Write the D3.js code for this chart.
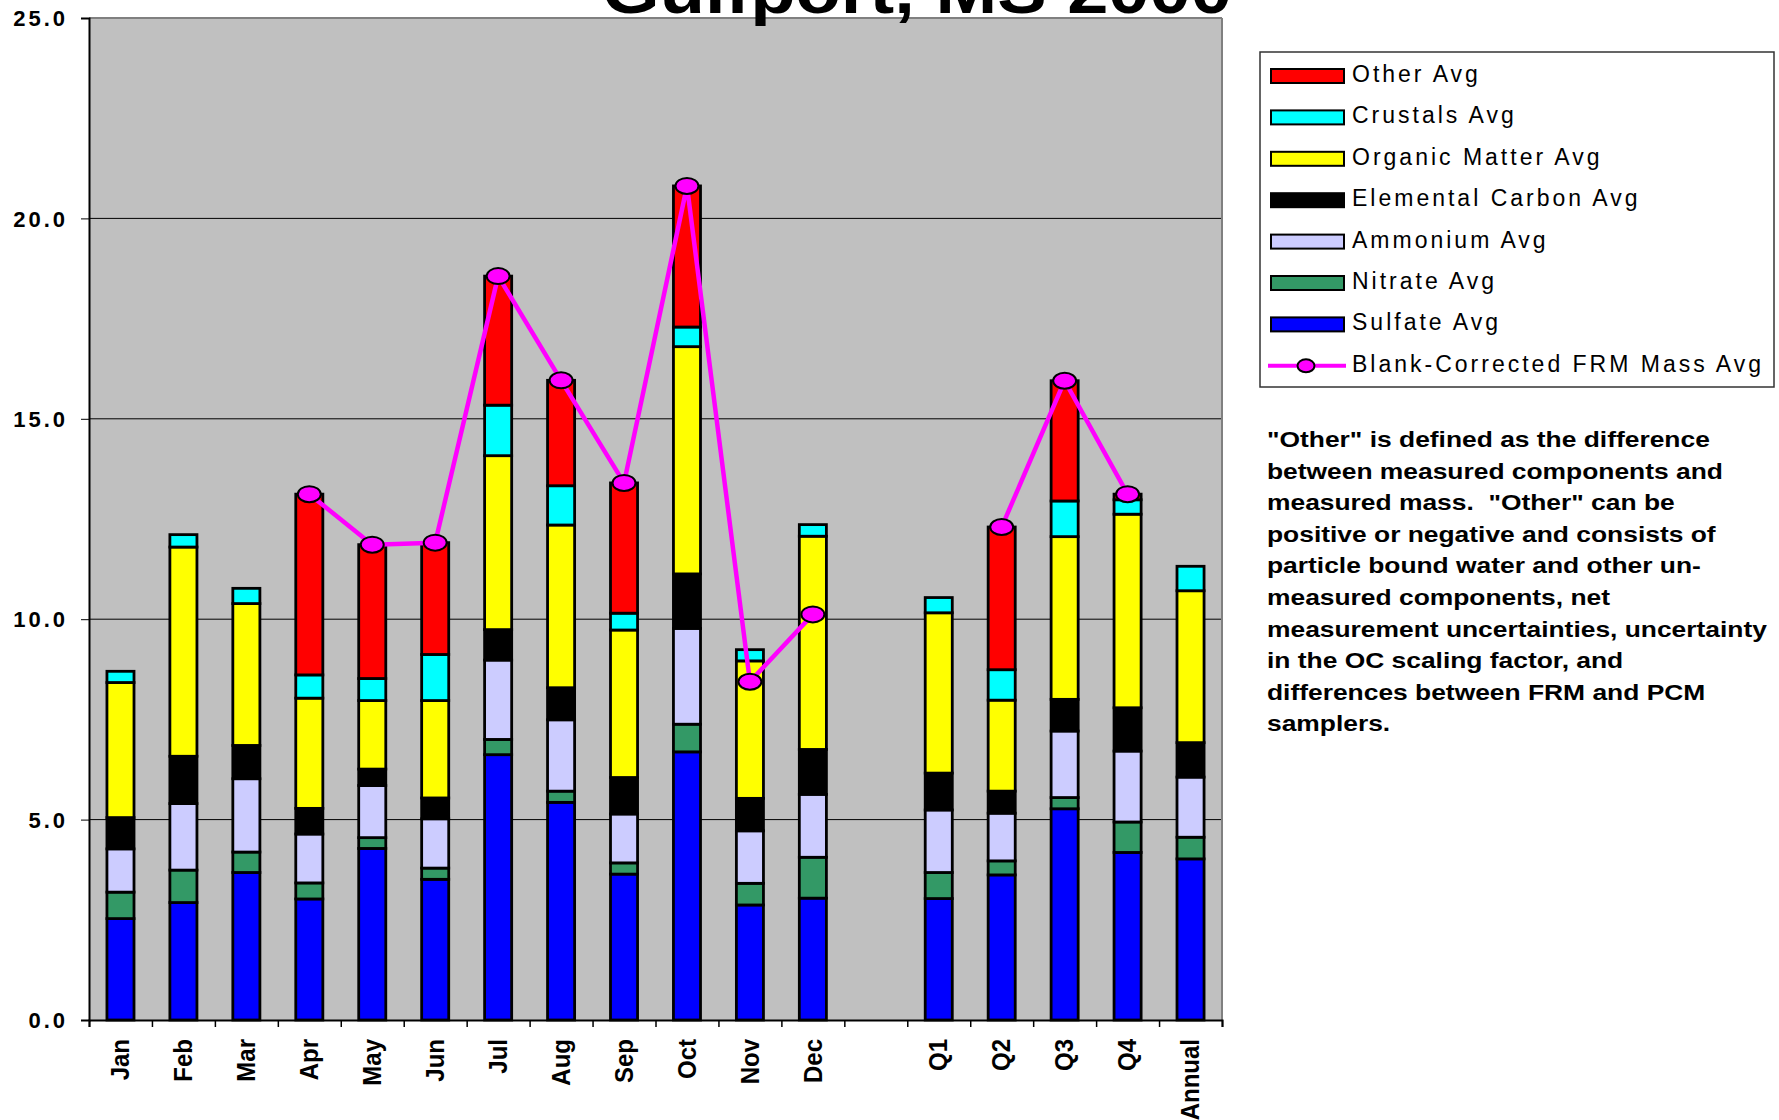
<!DOCTYPE html>
<html>
<head>
<meta charset="utf-8">
<script src="https://cdn.jsdelivr.net/npm/d3@7"></script>
<style>
  html, body { margin: 0; padding: 0; background: #ffffff; }
  svg { display: block; font-family: "Liberation Sans", Arial, Helvetica, sans-serif; }
</style>
</head>
<body>
<svg id="chart" width="1779" height="1120"></svg>
<script>
// ---------- data ----------
const categories = ["Jan","Feb","Mar","Apr","May","Jun","Jul","Aug","Sep","Oct","Nov","Dec","","Q1","Q2","Q3","Q4","Annual"];
const sulfate  = [2.53,2.93,3.68,3.02,4.28,3.51,6.62,5.43,3.64,6.69,2.87,3.04,null,3.03,3.62,5.27,4.18,4.02];
const nitrate  = [0.66,0.81,0.51,0.40,0.27,0.28,0.38,0.28,0.28,0.69,0.54,1.02,null,0.65,0.35,0.28,0.76,0.54];
const ammonium = [1.08,1.66,1.83,1.22,1.30,1.23,1.98,1.78,1.22,2.39,1.31,1.57,null,1.56,1.19,1.66,1.77,1.50];
const elementalCarbon = [0.78,1.18,0.83,0.64,0.41,0.52,0.76,0.80,0.91,1.36,0.81,1.12,null,0.92,0.55,0.79,1.08,0.86];
const organicMatter = [3.37,5.22,3.54,2.75,1.71,2.43,4.34,4.06,3.68,5.67,3.43,5.32,null,4.00,2.27,4.06,4.83,3.79];
const crustals = [0.28,0.31,0.38,0.58,0.55,1.15,1.26,0.98,0.42,0.49,0.28,0.29,null,0.38,0.76,0.89,0.36,0.61];
const other    = [0,0,0,4.51,3.34,2.79,3.22,2.63,3.25,3.52,0,0,null,0,3.56,3.00,0.14,0];
const frmMass  = [null,null,null,13.12,11.86,11.91,18.56,15.96,13.40,20.81,8.44,10.12,null,null,12.30,15.95,13.12,null];
const yTicks = [0,5,10,15,20,25];
const title = "Gulfport, MS 2000";

const seriesKeys   = ["Sulfate","Nitrate","Ammonium","Elemental Carbon","Organic Matter","Crustals","Other"];
const seriesValues = [sulfate,nitrate,ammonium,elementalCarbon,organicMatter,crustals,other];
const seriesColors = ["#0000FF","#339966","#CCCCFF","#000000","#FFFF00","#00FFFF","#FF0000"];
const legendOrder  = ["Other","Crustals","Organic Matter","Elemental Carbon","Ammonium","Nitrate","Sulfate"];
const noteLines = [
  "\"Other\" is defined as the difference",
  "between measured components and",
  "measured mass.  \"Other\" can be",
  "positive or negative and consists of",
  "particle bound water and other un-",
  "measured components, net",
  "measurement uncertainties, uncertainty",
  "in the OC scaling factor, and",
  "differences between FRM and PCM",
  "samplers."
];

// ---------- layout ----------
const L = 89, R = 1222, T = 18, B = 1020;
const svg = d3.select("#chart");

const rows = categories.map((c, i) => {
  const o = { cat: c, idx: i };
  seriesKeys.forEach((k, j) => o[k] = seriesValues[j][i] == null ? 0 : seriesValues[j][i]);
  o.valid = sulfate[i] != null;
  return o;
});

const x = d3.scaleBand().domain(categories).range([L, R]).paddingInner(0.57).paddingOuter(0.285);
const slot = d3.scaleLinear().domain([0, categories.length]).range([L, R]);
const y = d3.scaleLinear().domain([0, 25]).range([B, T]);

// plot background
svg.append("rect").attr("x", L).attr("y", T).attr("width", R - L).attr("height", B - T).attr("fill", "#C0C0C0");

// gridlines
svg.append("g").selectAll("line").data(yTicks.filter(v => v > 0 && v < 25)).join("line")
  .attr("x1", L).attr("x2", R).attr("y1", d => y(d)).attr("y2", d => y(d))
  .attr("stroke", "#000").attr("stroke-width", 1);

// plot border (top / right)
svg.append("line").attr("x1", L).attr("x2", R).attr("y1", T).attr("y2", T).attr("stroke", "#808080").attr("stroke-width", 2);
svg.append("line").attr("x1", R).attr("x2", R).attr("y1", T).attr("y2", B).attr("stroke", "#808080").attr("stroke-width", 2);

// y axis
const yAxis = svg.append("g").attr("transform", `translate(${L},0)`)
  .call(d3.axisLeft(y).tickValues(yTicks).tickSize(8).tickPadding(13).tickFormat(d3.format(".1f")));
yAxis.select(".domain").attr("stroke", "#000").attr("stroke-width", 2);
yAxis.selectAll(".tick line").attr("stroke", "#000").attr("stroke-width", 1);
yAxis.selectAll("text").attr("font-size", 22).attr("font-weight", "bold").attr("fill", "#000")
  .style("letter-spacing", "3px").attr("dy", "0.35em")
  .attr("font-family", "'Liberation Sans', Arial, sans-serif");

// x axis boundary ticks
const xTickAxis = svg.append("g").attr("transform", `translate(0,${B})`)
  .call(d3.axisBottom(slot).tickValues(d3.range(categories.length + 1)).tickSize(7).tickFormat(""));
xTickAxis.select(".domain").attr("stroke", "#000").attr("stroke-width", 2);
xTickAxis.selectAll(".tick line").attr("stroke", "#000").attr("stroke-width", 1.5);

// x labels
svg.append("g").selectAll("text").data(categories).join("text")
  .attr("transform", d => `translate(${x(d) + x.bandwidth() / 2},1039) rotate(-90) scale(1,1.1)`)
  .attr("text-anchor", "end").attr("dy", "0.33em")
  .attr("font-size", 24).attr("font-weight", "bold").attr("fill", "#000")
  .text(d => d);

// stacked bars
const stack = d3.stack().keys(seriesKeys);
const stacked = stack(rows);
const barG = svg.append("g");
stacked.forEach((s, j) => {
  barG.append("g").attr("fill", seriesColors[j])
    .selectAll("rect").data(s.filter(d => d.data.valid && d[1] - d[0] > 0)).join("rect")
    .attr("x", d => x(d.data.cat))
    .attr("width", x.bandwidth())
    .attr("y", d => y(d[1]))
    .attr("height", d => y(d[0]) - y(d[1]))
    .attr("stroke", "#000").attr("stroke-width", 2.8);
});

// FRM line + markers
const frmData = categories.map((c, i) => ({ cat: c, v: frmMass[i] }));
const line = d3.line().defined(d => d.v != null)
  .x(d => x(d.cat) + x.bandwidth() / 2).y(d => y(d.v));
svg.append("path").datum(frmData).attr("d", line)
  .attr("fill", "none").attr("stroke", "#FF00FF").attr("stroke-width", 4.5).attr("stroke-linejoin", "round");
svg.append("g").selectAll("ellipse").data(frmData.filter(d => d.v != null)).join("ellipse")
  .attr("cx", d => x(d.cat) + x.bandwidth() / 2).attr("cy", d => y(d.v))
  .attr("rx", 11.5).attr("ry", 8)
  .attr("fill", "#FF00FF").attr("stroke", "#000").attr("stroke-width", 2);

// title (cut off at the top edge, as in the original)
svg.append("text").attr("transform", "translate(602,13) scale(1.158,1)")
  .attr("font-size", 64).attr("font-weight", "bold").attr("fill", "#000").text(title);

// legend
const lg = svg.append("g");
lg.append("rect").attr("x", 1260).attr("y", 52).attr("width", 514).attr("height", 335)
  .attr("fill", "#fff").attr("stroke", "#333").attr("stroke-width", 1.5);
const rowY = i => 76 + i * 41.4;
legendOrder.forEach((k, i) => {
  const j = seriesKeys.indexOf(k);
  lg.append("rect").attr("x", 1271).attr("y", rowY(i) - 7).attr("width", 73).attr("height", 14)
    .attr("fill", seriesColors[j]).attr("stroke", "#000").attr("stroke-width", 2);
  lg.append("text").attr("x", 1352).attr("y", rowY(i) + 6)
    .attr("font-size", 23).style("letter-spacing", "3px").attr("fill", "#000").text(k + " Avg");
});
{
  const i = legendOrder.length;
  lg.append("line").attr("x1", 1268).attr("x2", 1346).attr("y1", rowY(i)).attr("y2", rowY(i))
    .attr("stroke", "#FF00FF").attr("stroke-width", 4);
  lg.append("ellipse").attr("cx", 1306).attr("cy", rowY(i)).attr("rx", 8.5).attr("ry", 6.5)
    .attr("fill", "#FF00FF").attr("stroke", "#000").attr("stroke-width", 2);
  lg.append("text").attr("x", 1352).attr("y", rowY(i) + 6)
    .attr("font-size", 23).style("letter-spacing", "3px").attr("fill", "#000").text("Blank-Corrected FRM Mass Avg");
}

// note
const note = svg.append("g").attr("transform", "translate(1267,0) scale(1.2,1)");
note.selectAll("text").data(noteLines).join("text")
  .attr("x", 0).attr("y", (d, i) => 447 + i * 31.6)
  .attr("font-size", 22).attr("font-weight", "bold").attr("fill", "#000")
  .style("white-space", "pre").text(d => d);
</script>
</body>
</html>
